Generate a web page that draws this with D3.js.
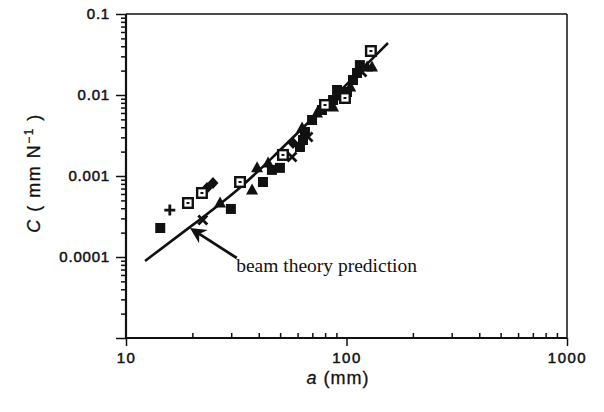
<!DOCTYPE html>
<html><head><meta charset="utf-8">
<script src="https://cdn.jsdelivr.net/npm/d3@7"></script>
<style>
body{margin:0;background:#fff;}
svg{display:block;}
</style></head>
<body>
<script>
// ---- data ----
const xTickLabels = ["10", "100", "1000"];
const xTickValues = [10, 100, 1000];
const yTickLabels = ["0.1", "0.01", "0.001", "0.0001"];
const yTickValues = [0.1, 0.01, 0.001, 0.0001];

// series: crack length a (mm), compliance C (mm/N)
const filledSquareA = [14.3, 29.9, 41.8, 45.9, 49.9, 61.5, 63.5, 64.8, 69.8, 77.4, 86.9, 90.6, 100.5, 107, 111.6, 115];
const filledSquareC = [2.28e-4, 3.92e-4, 8.43e-4, 1.19e-3, 1.26e-3, 2.28e-3, 2.78e-3, 3.49e-3, 4.91e-3, 6.53e-3, 8.67e-3, 0.01153, 0.01089, 0.0153, 0.0187, 0.0234];
const openSquareA = [19.1, 22.1, 32.9, 51.5, 79.9, 98.4, 129];
const openSquareC = [4.64e-4, 6.17e-4, 8.43e-4, 1.82e-3, 7.53e-3, 9.18e-3, 0.0349];
const triangleA = [26.7, 37.3, 39.3, 44.1, 62.9, 73.5, 86.9, 104, 124, 130.5];
const triangleC = [4.64e-4, 6.72e-4, 1.26e-3, 1.45e-3, 3.92e-3, 5.99e-3, 7.11e-3, 0.01256, 0.0222, 0.0222];
const crossA = [22.3, 56.6, 66.9, 93.4, 117.5];
const crossC = [2.86e-4, 1.72e-3, 3.03e-3, 9.44e-3, 0.0192];
const plusA = [15.8];
const plusC = [3.80e-4];
const diamondA = [23.3, 24.8, 57.2];
const diamondC = [7.11e-4, 8.20e-4, 2.55e-3];

// beam theory prediction curve
const theoryA = [12.2, 19.5, 32.9, 47.4, 68.3, 103.7, 154.2];
const theoryC = [8.93e-5, 2.34e-4, 6.91e-4, 1.82e-3, 4.77e-3, 0.0149, 0.0438];

// annotation arrow (tail -> tip) in data units
const arrowTail = [31.8, 9.72e-5];
const arrowTip = [19.5, 2.28e-4];
const annotationText = "beam theory prediction";
const annotationPos = [31.6, 6.53e-5];

// ---- drawing ----
const W = 604, H = 412;
const svg = d3.select("body").append("svg").attr("width", W).attr("height", H);

const x = d3.scaleLog().domain([10, 1000]).range([126, 567]);
const y = d3.scaleLog().domain([1e-5, 0.1]).range([338, 14]);

const ink = "#111";
const sans = "Liberation Sans, Arial, sans-serif";

// minor ticks
const xMinor = [], yMinor = [];
for (let d = 10; d < 1000; d *= 10) for (let k = 2; k <= 9; k++) xMinor.push(k * d);
for (let d = 1e-5; d < 0.1; d *= 10) for (let k = 2; k <= 9; k++) yMinor.push(k * d);

// left axis
const gy = svg.append("g").attr("transform", "translate(126,0)");
gy.call(d3.axisLeft(y).tickValues(yMinor).tickFormat("").tickSizeOuter(0).tickSize(5));
gy.append("g").call(d3.axisLeft(y).tickValues(yTickValues.concat([1e-5]))
  .tickFormat((d) => { const i = yTickValues.indexOf(d); return i >= 0 ? yTickLabels[i] : ""; })
  .tickSizeOuter(0).tickSize(10).tickPadding(6));
gy.selectAll(".domain").remove();
gy.selectAll("line").attr("stroke", ink).attr("stroke-width", 1.5);
gy.selectAll("text").attr("font-family", sans)
  .attr("font-size", 15).attr("fill", ink).attr("letter-spacing", 0.8)
  .attr("stroke", ink).attr("stroke-width", 0.5);

// bottom axis
const gx = svg.append("g").attr("transform", "translate(0,338)");
gx.call(d3.axisTop(x).tickValues(xMinor).tickFormat("").tickSizeOuter(0).tickSize(5));
gx.append("g").call(d3.axisBottom(x).tickValues(xTickValues)
  .tickFormat((d, i) => xTickLabels[i]).tickSizeOuter(0).tickSize(8).tickPadding(6));
gx.selectAll(".domain").remove();
gx.selectAll("line").attr("stroke", ink).attr("stroke-width", 1.5);
gx.selectAll("text").attr("font-family", sans)
  .attr("font-size", 15).attr("fill", ink).attr("letter-spacing", 1.5)
  .attr("stroke", ink).attr("stroke-width", 0.5);

// frame
svg.append("line").attr("x1", 126).attr("x2", 567).attr("y1", 14).attr("y2", 14).attr("stroke", ink).attr("stroke-width", 1.5);
svg.append("line").attr("x1", 567).attr("x2", 567).attr("y1", 14).attr("y2", 338).attr("stroke", ink).attr("stroke-width", 1.5);
svg.append("line").attr("x1", 126).attr("x2", 126).attr("y1", 14).attr("y2", 338).attr("stroke", ink).attr("stroke-width", 2.2);
svg.append("line").attr("x1", 126).attr("x2", 567).attr("y1", 338).attr("y2", 338).attr("stroke", ink).attr("stroke-width", 2);

// theory curve
const lineGen = d3.line().x((d) => x(d[0])).y((d) => y(d[1])).curve(d3.curveBasis);
svg.append("path").attr("d", lineGen(theoryA.map((a, i) => [a, theoryC[i]])))
  .attr("fill", "none").attr("stroke", ink).attr("stroke-width", 2.6);

// markers
const pts = (A, C) => A.map((a, i) => [x(a), y(C[i])]);
const gm = svg.append("g");
const s = 5;

pts(filledSquareA, filledSquareC).forEach(([px, py]) => {
  gm.append("rect").attr("x", px - s).attr("y", py - s).attr("width", 2 * s).attr("height", 2 * s).attr("fill", ink);
});
pts(triangleA, triangleC).forEach(([px, py]) => {
  gm.append("path").attr("d", `M${px},${py - 6.5}L${px + 6},${py + 4.5}L${px - 6},${py + 4.5}Z`).attr("fill", ink);
});
pts(diamondA, diamondC).forEach(([px, py]) => {
  gm.append("path").attr("d", `M${px},${py - 6}L${px + 5.5},${py}L${px},${py + 6}L${px - 5.5},${py}Z`).attr("fill", ink);
});
pts(crossA, crossC).forEach(([px, py]) => {
  gm.append("path").attr("d", `M${px - 4.5},${py - 4.5}L${px + 4.5},${py + 4.5}M${px + 4.5},${py - 4.5}L${px - 4.5},${py + 4.5}`)
    .attr("stroke", ink).attr("stroke-width", 2.8);
});
pts(plusA, plusC).forEach(([px, py]) => {
  gm.append("path").attr("d", `M${px - 5.5},${py}L${px + 5.5},${py}M${px},${py - 5.5}L${px},${py + 5.5}`)
    .attr("stroke", ink).attr("stroke-width", 2.8);
});
pts(openSquareA, openSquareC).forEach(([px, py]) => {
  gm.append("rect").attr("x", px - 4.8).attr("y", py - 4.8).attr("width", 9.6).attr("height", 9.6)
    .attr("fill", "#fff").attr("stroke", ink).attr("stroke-width", 2.4);
  gm.append("rect").attr("x", px - 1.5).attr("y", py - 1).attr("width", 3).attr("height", 2).attr("fill", ink);
});

// annotation arrow
const tx = x(arrowTail[0]), ty = y(arrowTail[1]);
const hx = x(arrowTip[0]), hy = y(arrowTip[1]);
const ang = Math.atan2(hy - ty, hx - tx);
const L = 16, Wd = 8;
const bx = hx - L * Math.cos(ang), by = hy - L * Math.sin(ang);
svg.append("line").attr("x1", tx).attr("y1", ty).attr("x2", bx + 5 * Math.cos(ang)).attr("y2", by + 5 * Math.sin(ang))
  .attr("stroke", ink).attr("stroke-width", 2.8);
svg.append("path").attr("d",
  `M${hx},${hy}L${bx + Wd * Math.sin(ang)},${by - Wd * Math.cos(ang)}L${bx + 5 * Math.cos(ang)},${by + 5 * Math.sin(ang)}L${bx - Wd * Math.sin(ang)},${by + Wd * Math.cos(ang)}Z`)
  .attr("fill", ink);

svg.append("text").attr("x", x(annotationPos[0])).attr("y", y(annotationPos[1]))
  .attr("font-family", "Liberation Serif, Times New Roman, serif").attr("font-size", 19.5)
  .attr("fill", ink).text(annotationText);

// axis titles
const yt = svg.append("text").attr("transform", "translate(40,173) rotate(-90)")
  .attr("text-anchor", "middle").attr("font-family", sans)
  .attr("font-size", 18).attr("letter-spacing", 1.5).attr("fill", ink).attr("stroke", ink).attr("stroke-width", 0.3);
yt.append("tspan").attr("font-style", "italic").text("C");
yt.append("tspan").text("  ( mm N");
yt.append("tspan").attr("dy", -7).attr("font-size", 12).text("−1");
yt.append("tspan").attr("dy", 7).text(" )");

const xt = svg.append("text").attr("x", 338).attr("y", 384)
  .attr("text-anchor", "middle").attr("font-family", sans)
  .attr("font-size", 18).attr("letter-spacing", 1).attr("fill", ink).attr("stroke", ink).attr("stroke-width", 0.3);
xt.append("tspan").attr("font-style", "italic").text("a");
xt.append("tspan").text(" (mm)");
</script>
</body></html>
